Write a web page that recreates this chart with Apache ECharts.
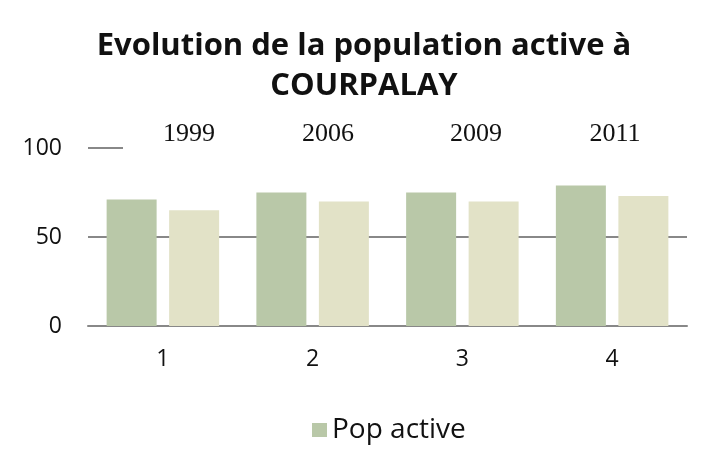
<!DOCTYPE html>
<html>
<head>
<meta charset="utf-8">
<script src="https://cdn.jsdelivr.net/npm/echarts@6/dist/echarts.min.js"></script>
<style>
  html, body { margin: 0; padding: 0; background: #fff; }
  #chart { width: 706px; height: 453px; }
</style>
</head>
<body>
<div id="chart"></div>
<script>
const categories = ['1', '2', '3', '4'];
const popActive = [71, 75, 75, 79];
const popActiveOccupee = [65, 70, 70, 73];
const yearLabels = ['1999', '2006', '2009', '2011'];
const yearLabelX = [189, 328, 476, 615];

const chart = echarts.init(document.getElementById('chart'));

const option = {
  backgroundColor: '#fff',
  animation: false,
  title: {
    text: 'Evolution de la population active à\nCOURPALAY',
    left: 359,
    textAlign: 'center',
    top: 21,
    textStyle: {
      fontFamily: 'Open Sans',
      fontWeight: 'bold',
      fontSize: 31,
      lineHeight: 40,
      color: '#111'
    }
  },
  legend: {
    data: ['Pop active'],
    left: 307,
    top: 411,
    itemWidth: 15,
    itemHeight: 14,
    icon: 'rect',
    textStyle: { fontFamily: 'Open Sans', fontSize: 28, color: '#111' }
  },
  grid: {
    left: 88,
    right: 19,
    top: 148,
    bottom: 127
  },
  xAxis: {
    type: 'category',
    data: categories,
    axisLine: { lineStyle: { color: '#888', width: 2 } },
    axisTick: { show: false },
    axisLabel: { color: '#111', fontFamily: 'Open Sans', fontSize: 23, margin: 22 }
  },
  yAxis: {
    type: 'value',
    min: 0,
    max: 100,
    interval: 50,
    axisLine: { show: false },
    axisTick: { show: false },
    splitLine: { lineStyle: { color: '#888', width: 2 } },
    axisLabel: { color: '#111', fontFamily: 'Open Sans', fontSize: 23, margin: 26 }
  },
  series: [
    {
      name: 'Pop active',
      type: 'bar',
      data: popActive,
      barWidth: 50,
      barGap: '25%',
      itemStyle: { color: '#B9C8A8' }
    },
    {
      name: 'Pop active occupée',
      type: 'bar',
      data: popActiveOccupee,
      barWidth: 50,
      itemStyle: { color: '#E2E2C7' }
    }
  ],
  graphic: [
    {
      type: 'rect',
      left: 123,
      top: 120,
      z: 100,
      shape: { width: 570, height: 36 },
      style: { fill: '#fff' }
    }
  ].concat(yearLabels.map((y, i) => ({
    type: 'text',
    x: yearLabelX[i],
    y: 134,
    z: 101,
    style: {
      text: y,
      fill: '#111',
      font: '26px "Liberation Serif"',
      textAlign: 'center',
      textVerticalAlign: 'middle'
    }
  })))
};

chart.setOption(option);
</script>
</body>
</html>
